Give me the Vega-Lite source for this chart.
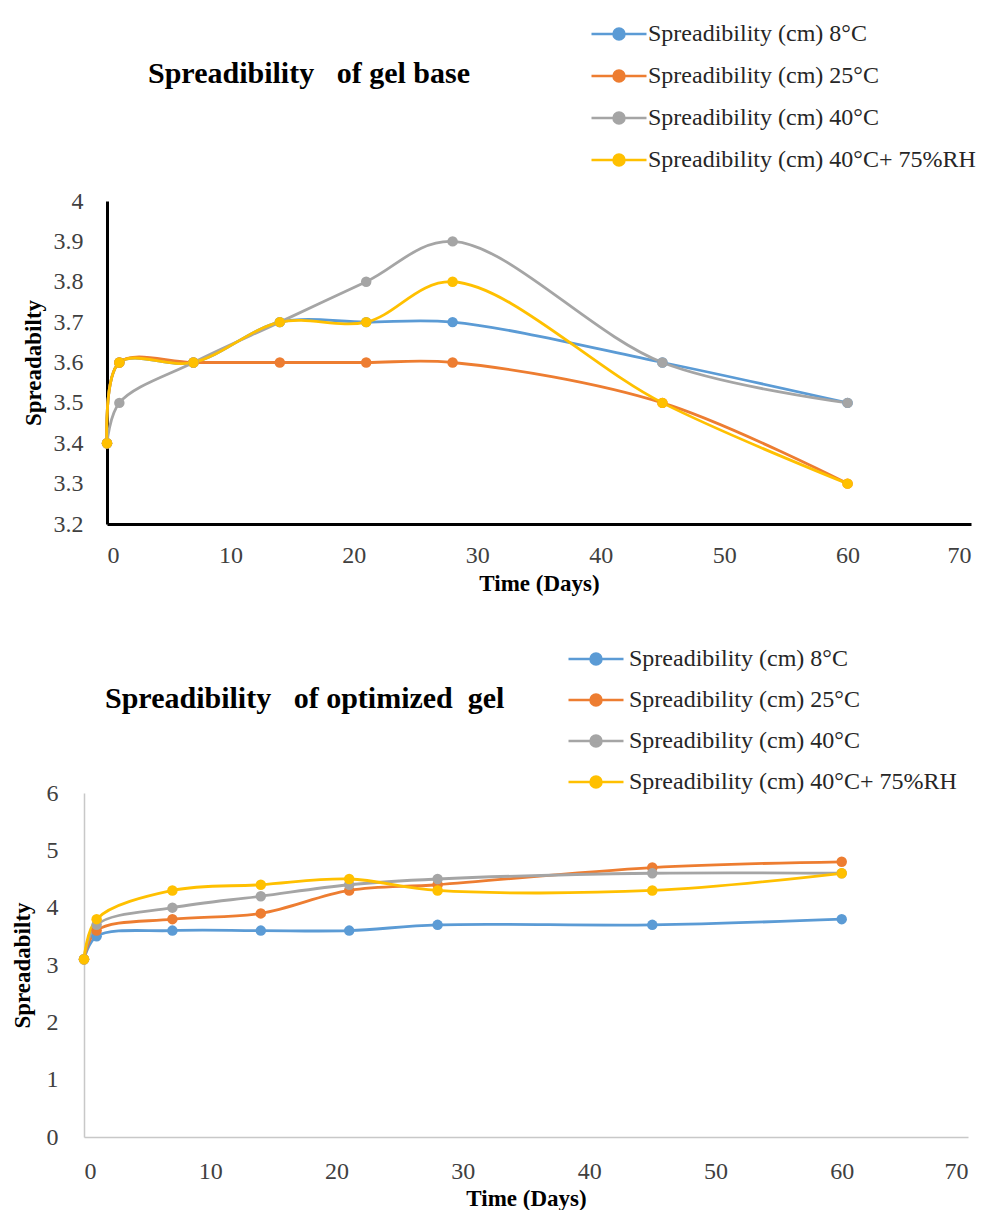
{
  "$schema": "https://vega.github.io/schema/vega-lite/v6.json",
  "background": "white",
  "padding": {"left": 11, "top": 5, "right": 0, "bottom": 0},
  "config": {
    "view": {"stroke": null},
    "font": "Liberation Serif",
    "concat": {"spacing": 35},
    "axis": {"grid": false, "ticks": false, "labelFont": "Liberation Serif", "labelFontSize": 24, "labelColor": "#404040", "titleFont": "Liberation Serif", "titleFontSize": 23, "titleFontWeight": "bold", "titleColor": "black"},
    "legend": {"orient": "none", "title": null, "labelFont": "Liberation Serif", "labelFontSize": 24, "labelColor": "#262626", "labelLimit": 500, "symbolType": "M-1,0L1,0M0.2,0A0.2,0.2 0 1 1 -0.2,0A0.2,0.2 0 1 1 0.2,0Z", "symbolSize": 3025, "symbolStrokeWidth": 2.5, "symbolOpacity": 1, "labelOffset": 0}
  },
  "resolve": {"scale": {"color": "independent"}, "legend": {"color": "independent"}},
  "vconcat": [
    {
      "width": 864,
      "height": 323,
      "title": {"text": "Spreadibility\u00a0\u00a0 of gel base", "anchor": "start", "frame": "group", "dx": 41, "offset": -84, "fontSize": 30, "fontWeight": "bold", "font": "Liberation Serif", "color": "black"},
      "data": {"values": [
        {"d": 0, "s": "Spreadibility (cm) 8°C", "v": 3.4},
        {"d": 1, "s": "Spreadibility (cm) 8°C", "v": 3.6},
        {"d": 7, "s": "Spreadibility (cm) 8°C", "v": 3.6},
        {"d": 14, "s": "Spreadibility (cm) 8°C", "v": 3.7},
        {"d": 21, "s": "Spreadibility (cm) 8°C", "v": 3.7},
        {"d": 28, "s": "Spreadibility (cm) 8°C", "v": 3.7},
        {"d": 45, "s": "Spreadibility (cm) 8°C", "v": 3.6},
        {"d": 60, "s": "Spreadibility (cm) 8°C", "v": 3.5},
        {"d": 0, "s": "Spreadibility (cm) 25°C", "v": 3.4},
        {"d": 1, "s": "Spreadibility (cm) 25°C", "v": 3.6},
        {"d": 7, "s": "Spreadibility (cm) 25°C", "v": 3.6},
        {"d": 14, "s": "Spreadibility (cm) 25°C", "v": 3.6},
        {"d": 21, "s": "Spreadibility (cm) 25°C", "v": 3.6},
        {"d": 28, "s": "Spreadibility (cm) 25°C", "v": 3.6},
        {"d": 45, "s": "Spreadibility (cm) 25°C", "v": 3.5},
        {"d": 60, "s": "Spreadibility (cm) 25°C", "v": 3.3},
        {"d": 0, "s": "Spreadibility (cm) 40°C", "v": 3.4},
        {"d": 1, "s": "Spreadibility (cm) 40°C", "v": 3.5},
        {"d": 7, "s": "Spreadibility (cm) 40°C", "v": 3.6},
        {"d": 14, "s": "Spreadibility (cm) 40°C", "v": 3.7},
        {"d": 21, "s": "Spreadibility (cm) 40°C", "v": 3.8},
        {"d": 28, "s": "Spreadibility (cm) 40°C", "v": 3.9},
        {"d": 45, "s": "Spreadibility (cm) 40°C", "v": 3.6},
        {"d": 60, "s": "Spreadibility (cm) 40°C", "v": 3.5},
        {"d": 0, "s": "Spreadibility (cm) 40°C+ 75%RH", "v": 3.4},
        {"d": 1, "s": "Spreadibility (cm) 40°C+ 75%RH", "v": 3.6},
        {"d": 7, "s": "Spreadibility (cm) 40°C+ 75%RH", "v": 3.6},
        {"d": 14, "s": "Spreadibility (cm) 40°C+ 75%RH", "v": 3.7},
        {"d": 21, "s": "Spreadibility (cm) 40°C+ 75%RH", "v": 3.7},
        {"d": 28, "s": "Spreadibility (cm) 40°C+ 75%RH", "v": 3.8},
        {"d": 45, "s": "Spreadibility (cm) 40°C+ 75%RH", "v": 3.5},
        {"d": 60, "s": "Spreadibility (cm) 40°C+ 75%RH", "v": 3.3}
      ]},
      "encoding": {
        "x": {"field": "d", "type": "quantitative", "scale": {"domain": [0, 70], "nice": false}, "axis": {"values": [0, 10, 20, 30, 40, 50, 60, 70], "title": "Time (Days)", "domainColor": "black", "domainWidth": 3, "labelPadding": 19, "titlePadding": 5}},
        "y": {"field": "v", "type": "quantitative", "scale": {"domain": [3.2, 4], "nice": false, "zero": false}, "axis": {"values": [3.2, 3.3, 3.4, 3.5, 3.6, 3.7, 3.8, 3.9, 4], "format": "~g", "title": "Spreadabilty", "domainColor": "black", "domainWidth": 3, "labelPadding": 24, "titlePadding": 8}},
        "color": {"field": "s", "type": "nominal", "scale": {"domain": ["Spreadibility (cm) 8°C", "Spreadibility (cm) 25°C", "Spreadibility (cm) 40°C", "Spreadibility (cm) 40°C+ 75%RH"], "range": ["#5B9BD5", "#ED7D31", "#A5A5A5", "#FFC000"]}, "legend": {"legendX": 483, "legendY": -196, "rowPadding": 1}}
      },
      "layer": [
        {"mark": {"type": "line", "interpolate": "catmull-rom", "strokeWidth": 2.8}},
        {"mark": {"type": "point", "filled": true, "size": 110, "opacity": 1}}
      ]
    },
    {
      "width": 861,
      "height": 344,
      "title": {"text": "Spreadibility\u00a0\u00a0 of optimized\u00a0 gel", "anchor": "start", "frame": "group", "dx": -2, "offset": -84, "fontSize": 30, "fontWeight": "bold", "font": "Liberation Serif", "color": "black"},
      "data": {"values": [
        {"d": 0, "s": "Spreadibility (cm) 8°C", "v": 3.1},
        {"d": 1, "s": "Spreadibility (cm) 8°C", "v": 3.5},
        {"d": 7, "s": "Spreadibility (cm) 8°C", "v": 3.6},
        {"d": 14, "s": "Spreadibility (cm) 8°C", "v": 3.6},
        {"d": 21, "s": "Spreadibility (cm) 8°C", "v": 3.6},
        {"d": 28, "s": "Spreadibility (cm) 8°C", "v": 3.7},
        {"d": 45, "s": "Spreadibility (cm) 8°C", "v": 3.7},
        {"d": 60, "s": "Spreadibility (cm) 8°C", "v": 3.8},
        {"d": 0, "s": "Spreadibility (cm) 25°C", "v": 3.1},
        {"d": 1, "s": "Spreadibility (cm) 25°C", "v": 3.6},
        {"d": 7, "s": "Spreadibility (cm) 25°C", "v": 3.8},
        {"d": 14, "s": "Spreadibility (cm) 25°C", "v": 3.9},
        {"d": 21, "s": "Spreadibility (cm) 25°C", "v": 4.3},
        {"d": 28, "s": "Spreadibility (cm) 25°C", "v": 4.4},
        {"d": 45, "s": "Spreadibility (cm) 25°C", "v": 4.7},
        {"d": 60, "s": "Spreadibility (cm) 25°C", "v": 4.8},
        {"d": 0, "s": "Spreadibility (cm) 40°C", "v": 3.1},
        {"d": 1, "s": "Spreadibility (cm) 40°C", "v": 3.7},
        {"d": 7, "s": "Spreadibility (cm) 40°C", "v": 4.0},
        {"d": 14, "s": "Spreadibility (cm) 40°C", "v": 4.2},
        {"d": 21, "s": "Spreadibility (cm) 40°C", "v": 4.4},
        {"d": 28, "s": "Spreadibility (cm) 40°C", "v": 4.5},
        {"d": 45, "s": "Spreadibility (cm) 40°C", "v": 4.6},
        {"d": 60, "s": "Spreadibility (cm) 40°C", "v": 4.6},
        {"d": 0, "s": "Spreadibility (cm) 40°C+ 75%RH", "v": 3.1},
        {"d": 1, "s": "Spreadibility (cm) 40°C+ 75%RH", "v": 3.8},
        {"d": 7, "s": "Spreadibility (cm) 40°C+ 75%RH", "v": 4.3},
        {"d": 14, "s": "Spreadibility (cm) 40°C+ 75%RH", "v": 4.4},
        {"d": 21, "s": "Spreadibility (cm) 40°C+ 75%RH", "v": 4.5},
        {"d": 28, "s": "Spreadibility (cm) 40°C+ 75%RH", "v": 4.3},
        {"d": 45, "s": "Spreadibility (cm) 40°C+ 75%RH", "v": 4.3},
        {"d": 60, "s": "Spreadibility (cm) 40°C+ 75%RH", "v": 4.6}
      ]},
      "encoding": {
        "x": {"field": "d", "type": "quantitative", "scale": {"domain": [0, 70], "nice": false, "range": [-23, 861]}, "axis": {"values": [0, 10, 20, 30, 40, 50, 60, 70], "title": "Time (Days)", "domainColor": "#C8C8C8", "domainWidth": 1.5, "labelPadding": 22, "titlePadding": 4}},
        "y": {"field": "v", "type": "quantitative", "scale": {"domain": [0, 6], "nice": false}, "axis": {"values": [0, 1, 2, 3, 4, 5, 6], "title": "Spreadabilty", "offset": 23, "domainColor": "#C8C8C8", "domainWidth": 1.5, "labelPadding": 26, "titlePadding": 12}},
        "color": {"field": "s", "type": "nominal", "scale": {"domain": ["Spreadibility (cm) 8°C", "Spreadibility (cm) 25°C", "Spreadibility (cm) 40°C", "Spreadibility (cm) 40°C+ 75%RH"], "range": ["#5B9BD5", "#ED7D31", "#A5A5A5", "#FFC000"]}, "legend": {"legendX": 460, "legendY": -163, "rowPadding": 0, "labelOffset": 4}}
      },
      "layer": [
        {"mark": {"type": "line", "interpolate": "catmull-rom", "strokeWidth": 2.8}},
        {"mark": {"type": "point", "filled": true, "size": 110, "opacity": 1}}
      ]
    }
  ]
}
